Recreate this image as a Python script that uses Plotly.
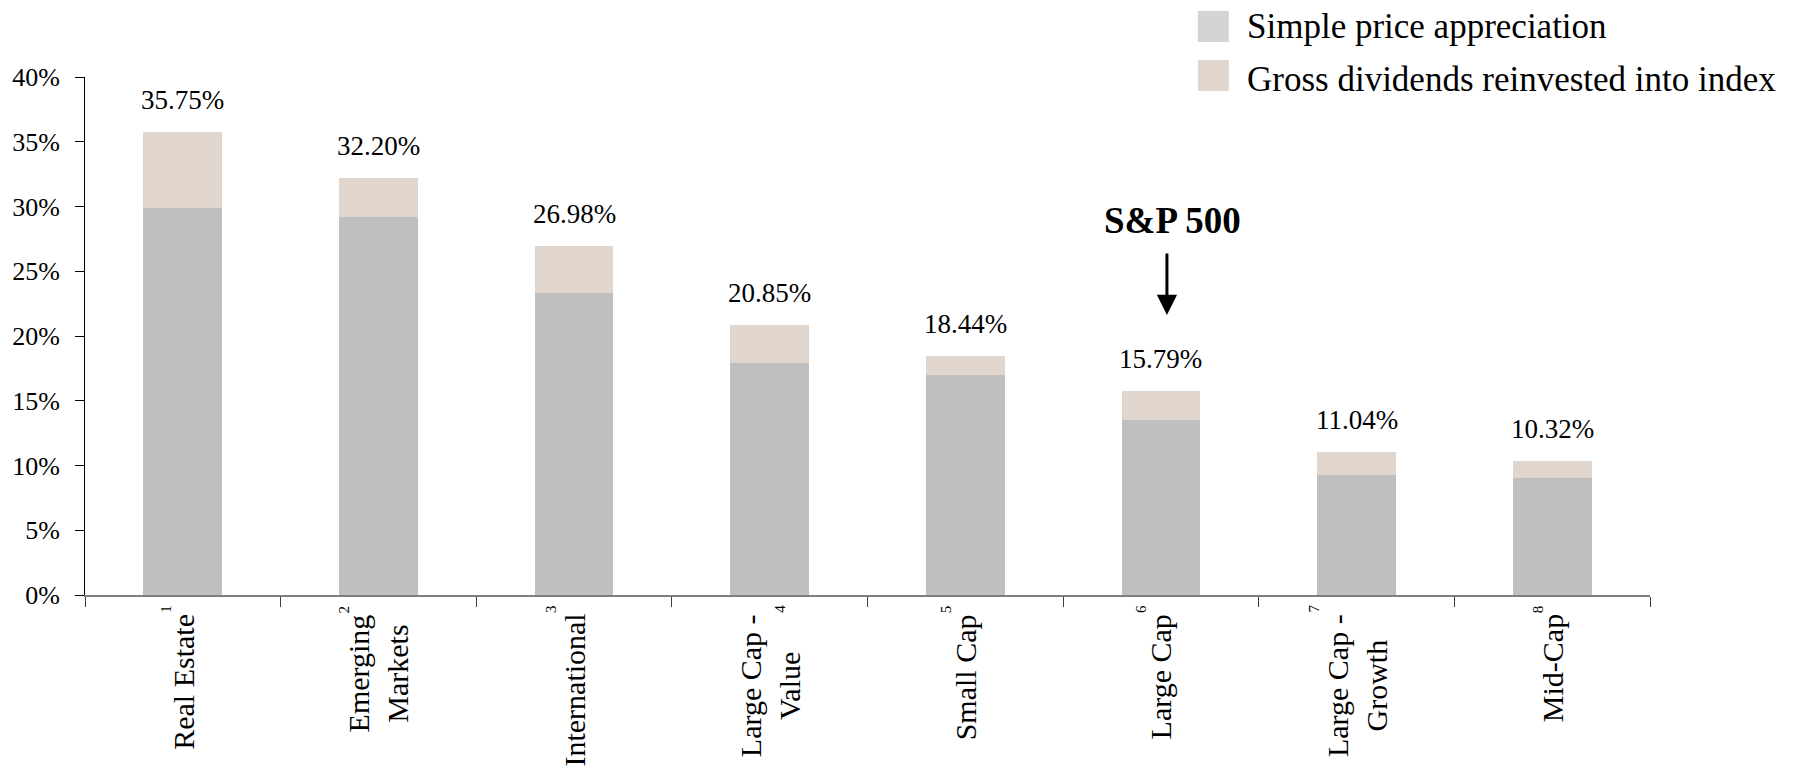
import plotly.graph_objects as go

# ---- data -------------------------------------------------------------
categories = ["Real Estate", "Emerging Markets", "International", "Large Cap - Value",
              "Small Cap", "Large Cap", "Large Cap - Growth", "Mid-Cap"]
tick_labels = [
    "Real Estate",
    "Emerging<br>Markets",
    "International",
    "Large Cap -<br>Value",
    "Small Cap",
    "Large Cap",
    "Large Cap -<br>Growth",
    "Mid-Cap",
]
footnote_marks = ["1", "2", "3", "4", "5", "6", "7", "8"]
total_return = [35.75, 32.20, 26.98, 20.85, 18.44, 15.79, 11.04, 10.32]
price_appreciation = [29.90, 29.20, 23.35, 17.95, 17.00, 13.55, 9.30, 9.00]
dividends = [round(t - p, 2) for t, p in zip(total_return, price_appreciation)]
series_names = ["Simple price appreciation", "Gross dividends reinvested into index"]
highlight_category = "Large Cap"
highlight_text = "S&P 500"

# ---- styling ------------------------------------------------------------
W, H = 1806, 778
M_L, M_R, M_T, M_B = 82, 156, 77, 183
PLOT_W = W - M_L - M_R
PLOT_H = H - M_T - M_B
FONT = "Liberation Serif, Times New Roman, serif"
GREY = "#BFBFBF"
BEIGE = "#E0D6CD"
LEGEND_GREY = "#D4D4D4"
# horizontal nudge (px) of each small footnote number from its category centre
MARK_SHIFT = [-17, -34, -23, 10, -19, -20, -43, -14]


def paper_x(px):
    return (px - M_L) / PLOT_W


def paper_y(px):
    return (H - M_B - px) / PLOT_H


fig = go.Figure()
fig.add_bar(x=categories, y=price_appreciation, name=series_names[0],
            marker=dict(color=GREY, line=dict(width=0)))
fig.add_bar(x=categories, y=dividends, name=series_names[1],
            marker=dict(color=BEIGE, line=dict(width=0)))

annotations = []
# total-return labels above each stack
for cat, tot in zip(categories, total_return):
    annotations.append(dict(x=cat, y=tot, xref="x", yref="y", text=f"{tot:.2f}%",
                            showarrow=False, yanchor="bottom", yshift=15,
                            font=dict(family=FONT, size=27, color="black")))
# rotated category labels under the axis, with their small footnote numbers
for cat, lab, mark, dx in zip(categories, tick_labels, footnote_marks, MARK_SHIFT):
    annotations.append(dict(x=cat, y=0, xref="x", yref="paper", text=lab,
                            showarrow=False, textangle=-90, yanchor="top",
                            xanchor="center", align="center", yshift=-17,
                            font=dict(family=FONT, size=30, color="black")))
    annotations.append(dict(x=cat, y=0, xref="x", yref="paper", text=mark,
                            showarrow=False, textangle=-90, yanchor="top",
                            xanchor="center", yshift=-8, xshift=dx,
                            font=dict(family=FONT, size=15, color="black")))
# S&P 500 call-out with a downward arrow
annotations.append(dict(x=highlight_category, y=paper_y(220), xref="x", yref="paper",
                        text=f"<b>{highlight_text}</b>", showarrow=False, xshift=12,
                        yanchor="middle",
                        font=dict(family=FONT, size=37, color="black")))
annotations.append(dict(x=highlight_category, y=paper_y(315), xref="x", yref="paper",
                        text="", showarrow=True, ax=0, ay=-63, xshift=6,
                        arrowhead=2, arrowsize=1.35, arrowwidth=3, arrowcolor="black",
                        standoff=0))
# legend entries
shapes = []
legend_rows = [(series_names[0], LEGEND_GREY, 11, 26), (series_names[1], BEIGE, 60, 79)]
for name, col, top, mid in legend_rows:
    shapes.append(dict(type="rect", xref="paper", yref="paper",
                       x0=paper_x(1197), x1=paper_x(1228),
                       y0=paper_y(top + 31), y1=paper_y(top),
                       fillcolor=col, line=dict(width=0)))
    annotations.append(dict(x=paper_x(1244), y=paper_y(mid), xref="paper", yref="paper",
                            text=name, showarrow=False, xanchor="left", yanchor="middle",
                            font=dict(family=FONT, size=35, color="black")))

fig.update_layout(
    width=W, height=H, autosize=False,
    margin=dict(l=M_L, r=M_R, t=M_T, b=M_B),
    barmode="stack", bargap=0.597,
    showlegend=False,
    plot_bgcolor="white", paper_bgcolor="white",
    font=dict(family=FONT, color="black"),
    annotations=annotations, shapes=shapes,
)
fig.update_xaxes(showline=True, linecolor="#7F7F7F", linewidth=1.5,
                 ticks="outside", tickson="boundaries", ticklen=10, tickcolor="#404040",
                 tickwidth=1, showticklabels=False, showgrid=False, zeroline=False)
fig.update_yaxes(range=[0, 40], dtick=5, ticksuffix="%", showline=True,
                 linecolor="black", linewidth=1, ticks="outside", ticklen=9,
                 tickcolor="black", tickwidth=1, showgrid=False, zeroline=False,
                 ticklabelstandoff=10, tickfont=dict(family=FONT, size=26, color="black"))

fig.write_html("out.html")
